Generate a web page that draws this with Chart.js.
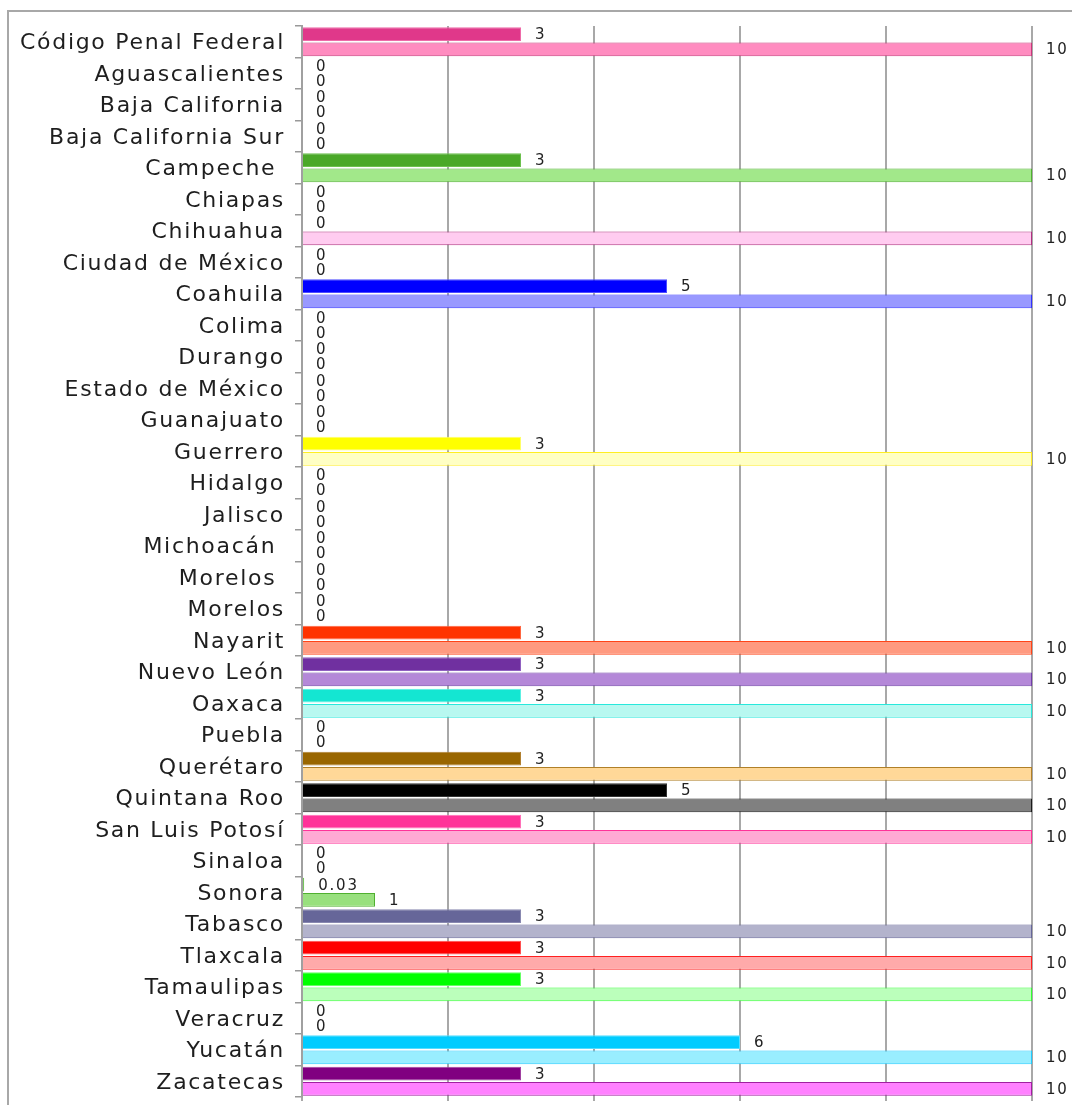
<!DOCTYPE html>
<html>
<head>
<meta charset="utf-8">
<script src="https://cdn.jsdelivr.net/npm/chart.js@4/dist/chart.umd.min.js"></script>
<style>
  html, body { margin: 0; padding: 0; background: #fff; }
  #wrap { width: 1072px; height: 1105px; position: relative; }
</style>
</head>
<body>
<div id="wrap"><canvas id="c" width="1072" height="1105"></canvas></div>
<script>
// Entidades (eje vertical)
const categories = [
  'Código Penal Federal', 'Aguascalientes', 'Baja California', 'Baja California Sur',
  'Campeche ', 'Chiapas', 'Chihuahua', 'Ciudad de México', 'Coahuila', 'Colima',
  'Durango', 'Estado de México', 'Guanajuato', 'Guerrero', 'Hidalgo', 'Jalisco',
  'Michoacán ', 'Morelos ', 'Morelos', 'Nayarit', 'Nuevo León', 'Oaxaca', 'Puebla',
  'Querétaro', 'Quintana Roo', 'San Luis Potosí', 'Sinaloa', 'Sonora', 'Tabasco',
  'Tlaxcala', 'Tamaulipas', 'Veracruz', 'Yucatán', 'Zacatecas'
];

// Primera serie (barra oscura)
const seriesA = [3, 0, 0, 0, 3, 0, 0, 0, 5, 0, 0, 0, 0, 3, 0, 0, 0, 0, 0, 3, 3, 3, 0, 3, 5, 3, 0, 0.03, 3, 3, 3, 0, 6, 3];

// Segunda serie (barra clara)
const seriesB = [10, 0, 0, 0, 10, 0, 10, 0, 10, 0, 0, 0, 0, 10, 0, 0, 0, 0, 0, 10, 10, 10, 0, 10, 10, 10, 0, 1, 10, 10, 10, 0, 10, 10];

// Escala horizontal
const xTicks = [0, 2, 4, 6, 8, 10];

// Colores por entidad
const fillA = [
  '#e0388a', '#888', '#888', '#888', '#4aa828', '#888', '#c03a8a', '#888', '#0000ff', '#888',
  '#888', '#888', '#888', '#ffff00', '#888', '#888', '#888', '#888', '#888', '#ff3300',
  '#7030a0', '#14e6d2', '#888', '#996600', '#000000', '#ff3399', '#888', '#44b022', '#666699',
  '#ff0000', '#00ff00', '#888', '#00ccff', '#800080'
];
const edgeA = [
  '#ee6aa8', '#888', '#888', '#888', '#6cc04e', '#888', '#c03a8a', '#888', '#4d4dff', '#888',
  '#888', '#888', '#888', '#ffff66', '#888', '#888', '#888', '#888', '#888', '#ff6640',
  '#9060c0', '#5cf0e2', '#888', '#b08030', '#333333', '#ff70b8', '#888', '#66c044', '#8888b0',
  '#ff5050', '#66ff66', '#888', '#55ddff', '#a040a0'
];
const fillB = [
  '#ff8cc0', '#888', '#888', '#888', '#a2e88a', '#888', '#ffccf0', '#888', '#9999ff', '#888',
  '#888', '#888', '#888', '#ffffc4', '#888', '#888', '#888', '#888', '#888', '#ff9a80',
  '#b488d8', '#b8f8f0', '#888', '#ffd898', '#808080', '#ffaad4', '#888', '#98e07e', '#b3b3cc',
  '#ffaaaa', '#bbffbb', '#888', '#99eeff', '#ff80ff'
];
const edgeB = [
  '#c8387a', '#888', '#888', '#888', '#50b030', '#888', '#b03080', '#888', '#3333ff', '#888',
  '#888', '#888', '#888', '#ffee22', '#888', '#888', '#888', '#888', '#888', '#ff4418',
  '#7040a8', '#28e8dc', '#888', '#b08028', '#1a1a1a', '#ff3399', '#888', '#50b030', '#666699',
  '#ff2020', '#33ff33', '#888', '#22ccff', '#a020a0'
];

const fmt = v => String(v);

// Marco gris exterior y espaciado de letras
const framePlugin = {
  id: 'frame',
  beforeDraw(chart) {
    const ctx = chart.ctx;
    ctx.save();
    ctx.strokeStyle = '#a8a8a8';
    ctx.lineWidth = 2;
    ctx.beginPath();
    ctx.moveTo(1072, 11);
    ctx.lineTo(8, 11);
    ctx.lineTo(8, 1105);
    ctx.stroke();
    ctx.restore();
    ctx.letterSpacing = '1.7px';
  },
  afterDraw(chart) {
    chart.ctx.letterSpacing = '0px';
  }
};

// Valor escrito al final de cada barra
const valuePlugin = {
  id: 'values',
  afterDatasetsDraw(chart) {
    const ctx = chart.ctx;
    ctx.save();
    ctx.letterSpacing = '1.8px';
    ctx.font = '15px "DejaVu Sans"';
    ctx.fillStyle = '#222';
    ctx.textAlign = 'left';
    ctx.textBaseline = 'middle';
    chart.data.datasets.forEach((ds, di) => {
      const meta = chart.getDatasetMeta(di);
      meta.data.forEach((bar, i) => {
        ctx.fillText(fmt(ds.data[i]), bar.x + 14, bar.y + 1);
      });
    });
    ctx.restore();
  }
};

new Chart(document.getElementById('c'), {
  type: 'bar',
  data: {
    labels: categories,
    datasets: [
      { data: seriesA, backgroundColor: fillA, borderColor: edgeA, borderWidth: 1,
        categoryPercentage: 0.97, barPercentage: 0.9 },
      { data: seriesB, backgroundColor: fillB, borderColor: edgeB, borderWidth: 1,
        categoryPercentage: 0.97, barPercentage: 0.9 }
    ]
  },
  options: {
    indexAxis: 'y',
    responsive: false,
    animation: false,
    layout: { padding: { top: 26, right: 40, left: 0, bottom: 0 } },
    plugins: { legend: { display: false }, tooltip: { enabled: false } },
    scales: {
      x: {
        min: xTicks[0],
        max: xTicks[xTicks.length - 1],
        afterBuildTicks(s) { s.ticks = xTicks.map(v => ({ value: v })); },
        ticks: { display: false },
        grid: { color: '#a8a8a8', lineWidth: 2, drawTicks: true, tickLength: 4 },
        border: { display: false },
        afterFit(s) { s.height = 8; s.paddingLeft = 0; s.paddingRight = 0; }
      },
      y: {
        ticks: {
          font: { family: 'DejaVu Sans', size: 22 },
          color: '#1e1e1e',
          padding: 10,
          labelOffset: 2,
          autoSkip: false
        },
        grid: { drawOnChartArea: false, drawTicks: true, tickLength: 7, color: '#999', lineWidth: 1.5 },
        border: { color: '#a0a0a0', width: 2 },
        afterFit(s) { s.width = 302; s.paddingTop = 0; s.paddingBottom = 0; }
      }
    }
  },
  plugins: [framePlugin, valuePlugin]
});
</script>
</body>
</html>
